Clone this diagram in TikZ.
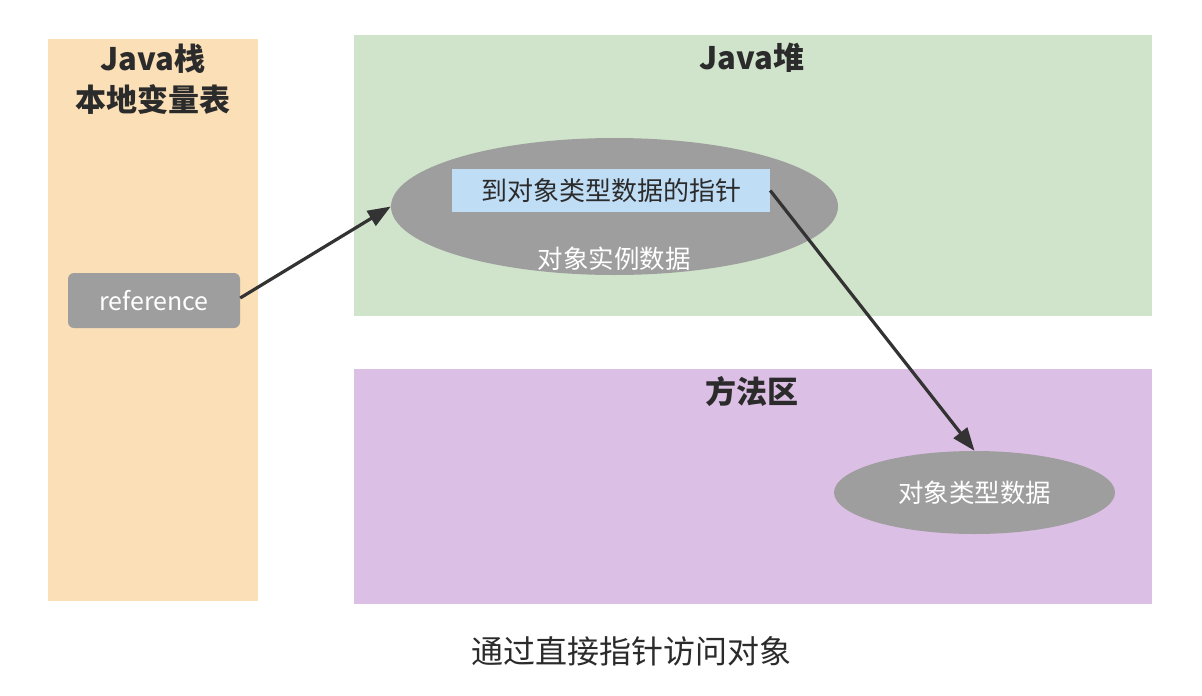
\documentclass[tikz,border=0pt]{standalone}
\usepackage{fontspec}
\setmainfont{Noto Sans CJK SC}
\usetikzlibrary{shapes.geometric,arrows.meta}
\definecolor{stackc}{HTML}{FADFB7}
\definecolor{heapc}{HTML}{D0E4CB}
\definecolor{methc}{HTML}{DCBFE4}
\definecolor{grayc}{HTML}{9E9E9E}
\definecolor{bluec}{HTML}{C0DDF6}
\definecolor{darkc}{HTML}{333333}
\definecolor{titlec}{HTML}{2B2B2B}
\begin{document}
\begin{tikzpicture}[x=1pt,y=-1pt,
  ttl/.style={font=\fontsize{31}{41}\selectfont\bfseries,text=titlec,align=center},
  oval/.style={ellipse,fill=grayc,draw=none,inner sep=0pt},
  conn/.style={draw=darkc,line width=3.2pt,-{Triangle[length=23pt,width=17pt]}}]
\useasboundingbox (0,0) rectangle (1202,696);
\fill[white] (0,0) rectangle (1202,696);
\fill[stackc] (48,39) rectangle (258,601);
\fill[heapc] (354,35) rectangle (1152,316);
\fill[methc] (354,369) rectangle (1152,604);
\node[ttl] (t1) at (153,79) {Java栈\\本地变量表};
\node[ttl] (t2) at (752,58) {Java堆};
\node[ttl] (t3) at (752,392) {方法区};
\node[oval,minimum width=447pt,minimum height=137pt] (e1) at (614.5,206.5) {};
\node[fill=bluec,minimum width=318pt,minimum height=43pt,inner sep=0pt,font=\fontsize{26}{30}\selectfont,text=titlec] (ptr) at (611,190.5) {到对象类型数据的指针};
\node[font=\fontsize{25.5}{30}\selectfont,text=white] (inst) at (614,259) {对象实例数据};
\node[fill=grayc,rounded corners=6pt,minimum width=172pt,minimum height=55pt,inner sep=0pt,font=\fontsize{25}{30}\selectfont,text=white] (ref) at (154,300.5) {reference};
\node[oval,minimum width=281pt,minimum height=83pt,font=\fontsize{25.5}{30}\selectfont,text=white] (e2) at (974.5,492.5) {对象类型数据};
\node[font=\fontsize{32}{38}\selectfont,text=titlec] (cap) at (631,651) {通过直接指针访问对象};
\coordinate (a1s) at (240,298);
\draw[conn] (ref.east |- a1s) -- (e1.west);
\draw[conn] (ptr.east) -- (e2.north);
\end{tikzpicture}
\end{document}
